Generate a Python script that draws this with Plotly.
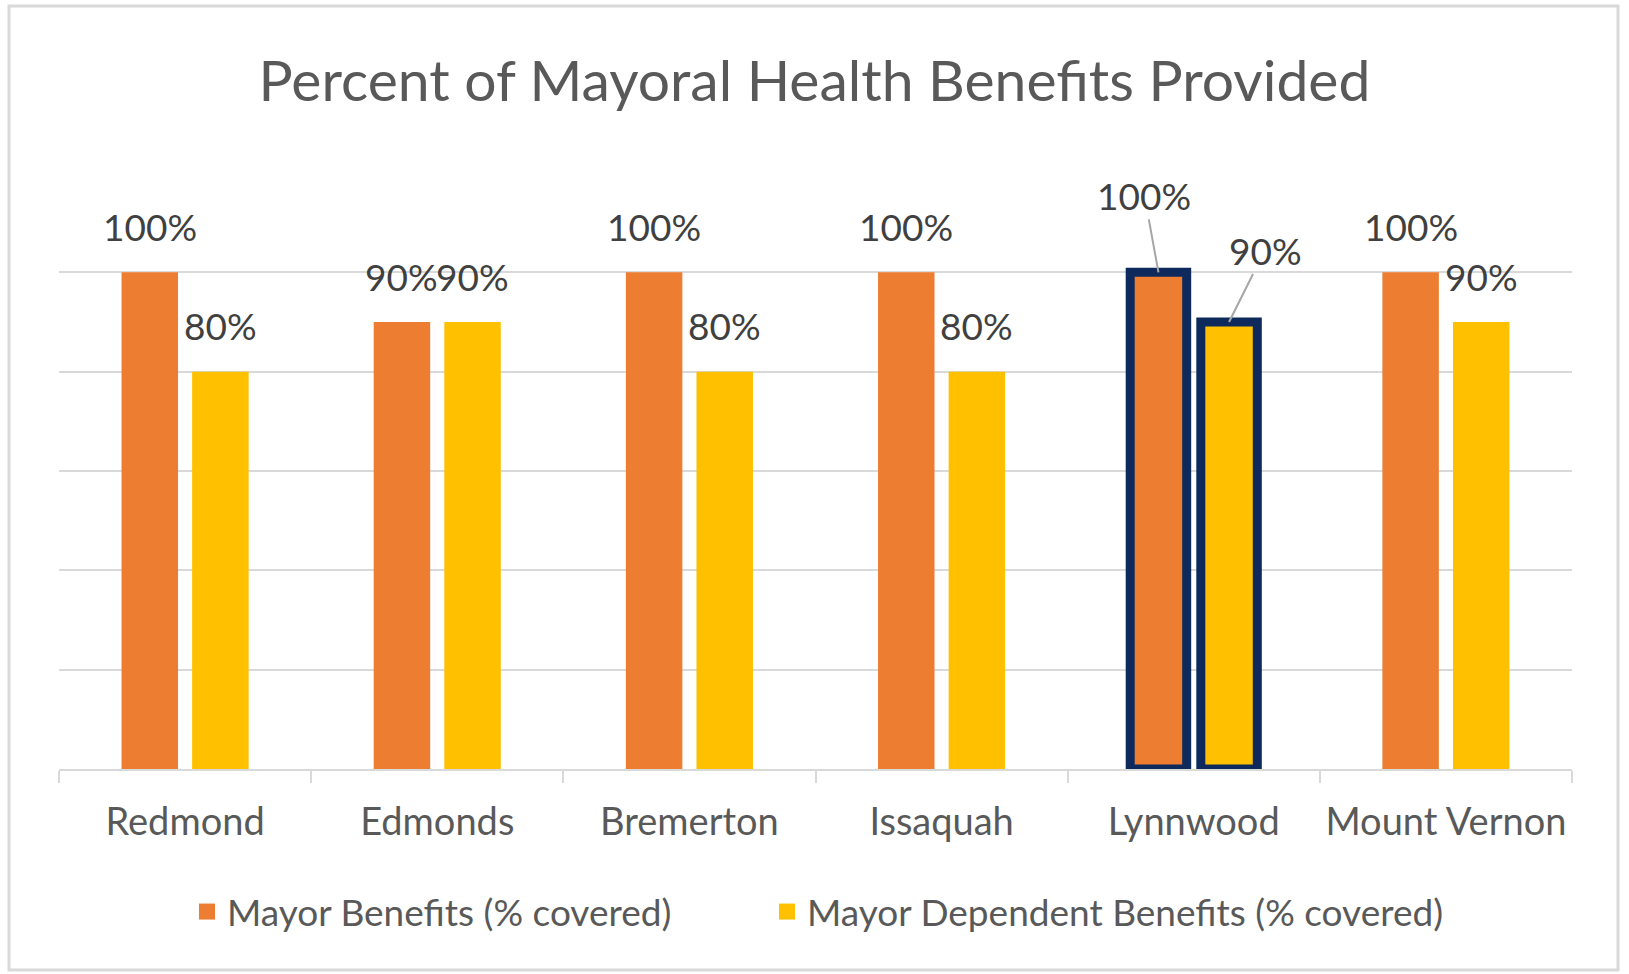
import plotly.graph_objects as go

cities = ["Redmond", "Edmonds", "Bremerton", "Issaquah", "Lynnwood", "Mount Vernon"]
mayor = [100, 90, 100, 100, 100, 100]
dependent = [80, 90, 80, 80, 90, 90]
series_names = ["Mayor Benefits (% covered)", "Mayor Dependent Benefits (% covered)"]
highlight = "Lynnwood"

ORANGE = "#ED7D31"
YELLOW = "#FFC000"
NAVY = "#0E2A5C"
GRID = "#D9D9D9"
TEXT = "#595959"
FONT = "Lato"

W, H = 1629, 974
L, R, T, B = 59, 57, 173, 205
PW = W - L - R
PH = H - T - B

hl_width = [9 if c == highlight else 0 for c in cities]

fig = go.Figure()
fig.add_bar(x=cities, y=mayor, name=series_names[0], marker=dict(color=ORANGE, line=dict(color=NAVY, width=hl_width)), showlegend=False)
fig.add_bar(x=cities, y=dependent, name=series_names[1], marker=dict(color=YELLOW, line=dict(color=NAVY, width=hl_width)), showlegend=False)

# legend entries
fig.add_scatter(x=[None], y=[None], mode="markers", name=series_names[0], legend="legend",
                marker=dict(symbol="square", size=20, color=ORANGE))
fig.add_scatter(x=[None], y=[None], mode="markers", name=series_names[1], legend="legend2",
                marker=dict(symbol="square", size=20, color=YELLOW))

off = 0.14
LBL = dict(family=FONT, size=37, color="#404040")
annotations = []
for i, c in enumerate(cities):
    for vals, dx in ((mayor, -off), (dependent, off)):
        v = vals[i]
        if c == highlight:
            if dx < 0:
                ax, ay = -14, -77
            else:
                ax, ay = 36, -72
            annotations.append(dict(x=i + dx, y=v, xref="x", yref="y", text=f"{v}%",
                                    showarrow=True, arrowhead=0, arrowwidth=2, arrowcolor="#A6A6A6",
                                    ax=ax, ay=ay, standoff=0, font=LBL))
        else:
            annotations.append(dict(x=i + dx, y=v, xref="x", yref="y", text=f"{v}%",
                                    showarrow=False, yanchor="middle", yshift=46, font=LBL))

legend_common = dict(orientation="h", xanchor="left", y=-(912 - 769) / PH, yanchor="middle",
                     font=dict(family=FONT, size=37, color=TEXT), itemwidth=30,
                     bgcolor="rgba(0,0,0,0)")

fig.update_layout(
    width=W, height=H,
    margin=dict(l=L, r=R, t=T, b=B),
    paper_bgcolor="white", plot_bgcolor="white",
    barmode="group", bargap=0.44, bargroupgap=0.2,
    title=dict(text="Percent of Mayoral Health Benefits Provided", x=0.5, xanchor="center",
               y=1 - 81 / H, yanchor="middle", yref="container",
               font=dict(family=FONT, size=57, color=TEXT)),
    xaxis=dict(type="category", showline=True, linecolor=GRID, linewidth=2,
               ticks="outside", tickson="boundaries", ticklen=12, tickcolor=GRID, tickwidth=2,
               tickfont=dict(family=FONT, size=38, color=TEXT), ticklabelstandoff=18,
               showgrid=False),
    yaxis=dict(range=[0, 120], dtick=20, showticklabels=False, showgrid=True,
               gridcolor=GRID, gridwidth=2, zeroline=False, ticks=""),
    legend=dict(x=(187 - L) / PW, **legend_common),
    legend2=dict(x=(767 - L) / PW, **legend_common),
    annotations=annotations,
    shapes=[dict(type="rect", xref="paper", yref="paper",
                 x0=-(L - 9) / PW, x1=1 + (1618 - (W - R)) / PW,
                 y0=-(970 - (H - B)) / PH, y1=1 + (T - 6) / PH,
                 line=dict(color=GRID, width=3), layer="below")],
)

fig.write_html("out.html")
